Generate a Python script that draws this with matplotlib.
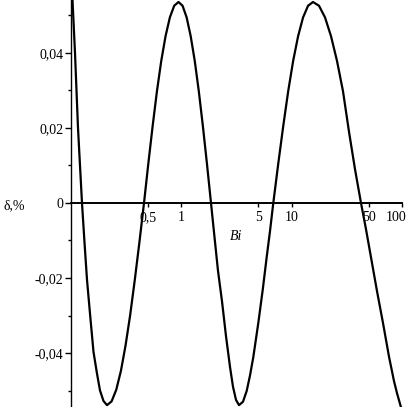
import matplotlib
matplotlib.use('Agg')
import matplotlib.pyplot as plt
from matplotlib.transforms import ScaledTranslation

# values (Bi on a log axis, delta in %)
bi = [0.1, 0.10426, 0.10983, 0.11691, 0.12707,
      0.13387, 0.14106, 0.15013, 0.16146, 0.17373, 0.18493, 0.19892, 0.21398,
      0.23547, 0.25944, 0.28578, 0.31448, 0.34627, 0.38142, 0.42022, 0.46263,
      0.50605, 0.55368, 0.60569, 0.66263, 0.72489, 0.79318, 0.86770, 0.94925,
      1.0330, 1.1245, 1.2236, 1.3318, 1.4493, 1.5776, 1.7169, 1.8685,
      2.0101, 2.1622, 2.3498, 2.5541, 2.7761, 2.9552, 3.1459, 3.3488,
      3.6399, 3.9317, 4.2114, 4.5113, 5.0067, 5.4875, 5.9645, 6.3890, 6.8437,
      7.5889, 8.4171, 9.3336, 10.350, 11.477, 12.728, 14.118, 15.652,
      17.739, 20.101, 22.776, 25.808, 29.243, 33.141, 37.556, 42.556,
      47.232, 53.519, 59.397, 67.30, 76.30, 84.65, 90.10, 97.94, 100.0]
delta = [0.063, 0.0541, 0.0400, 0.0200, 0.0,
         -0.0105, -0.0205, -0.0295, -0.0397, -0.0455, -0.0500, -0.0528, -0.0539,
         -0.0529, -0.0498, -0.0448, -0.0381, -0.0300, -0.0206, -0.0105, 0.0,
         0.0105, 0.0205, 0.0298, 0.0379, 0.0445, 0.0495, 0.0526, 0.0536,
         0.0526, 0.0495, 0.0445, 0.0379, 0.0298, 0.0205, 0.0105, 0.0,
         -0.0091, -0.0181, -0.0262, -0.0355, -0.0437, -0.0490, -0.0525, -0.0539,
         -0.0530, -0.0501, -0.0460, -0.0411, -0.0320, -0.0232, -0.0144, -0.0075, 0.0,
         0.0105, 0.0205, 0.0298, 0.0379, 0.0445, 0.0495, 0.0526, 0.0536,
         0.0526, 0.0495, 0.0445, 0.0379, 0.0298, 0.0190, 0.0090, 0.0,
         -0.0070, -0.0160, -0.0235, -0.0320, -0.0410, -0.0475, -0.0507, -0.0545,
         -0.0556]

x_ticks = [0.5, 1, 5, 10, 50, 100]
x_labels = ['0,5', '1', '5', '10', '50', '100']
y_ticks = [-0.04, -0.02, 0, 0.02, 0.04]
y_labels = ['-0,04', '-0,02', '0', '0,02', '0,04']
y_minor = [-0.05, -0.03, -0.01, 0.01, 0.03, 0.05]

plt.rcParams['font.family'] = ['Liberation Serif', 'DejaVu Serif']


def draw_curve(ax):
    ax.plot(bi, delta, color='black', lw=1.6, solid_joinstyle='round')


def setup_axes(fig, ax):
    ax.set_xscale('log')
    ax.set_xlim(10 ** (-181 / 110.5), 10 ** (228 / 110.5))
    ax.set_ylim(-204 / 3750, 203 / 3750)
    for s in ['top', 'right']:
        ax.spines[s].set_visible(False)
    ax.spines['left'].set_position(('data', 0.1))
    ax.spines['bottom'].set_position(('data', 0))
    ax.spines['bottom'].set_bounds(0.1, 100)
    ax.spines['left'].set_linewidth(1.0)
    ax.spines['bottom'].set_linewidth(1.4)

    ax.set_xticks(x_ticks)
    ax.set_xticklabels(x_labels)
    ax.xaxis.set_minor_locator(matplotlib.ticker.NullLocator())
    ax.tick_params(axis='x', direction='out', length=3, width=1, pad=3,
                   labelsize=10)
    # keep the last label inside the picture
    last = ax.get_xticklabels()[-1]
    last.set_transform(last.get_transform()
                       + ScaledTranslation(-0.06, 0, fig.dpi_scale_trans))

    ax.set_yticks(y_ticks)
    ax.set_yticklabels(y_labels)
    ax.set_yticks(y_minor, minor=True)
    ax.tick_params(axis='y', which='major', direction='out', length=4,
                   width=1, pad=1, labelsize=10)
    ax.tick_params(axis='y', which='minor', direction='out', length=2,
                   width=1)


def name_axis(fig):
    fig.text(14 / 409, 1 - 206 / 407, 'δ,%', ha='center', va='center',
             fontsize=10)
    fig.text(236 / 409, 1 - 237 / 407, 'Bi', ha='center', va='center',
             fontsize=10, style='italic')


def main():
    fig = plt.figure(figsize=(4.09, 4.07), dpi=100)
    ax = fig.add_axes([0, 0, 1, 1])
    ax.patch.set_alpha(0)
    draw_curve(ax)
    setup_axes(fig, ax)
    name_axis(fig)
    fig.savefig('out.png', dpi=100, facecolor='white')


if __name__ == "__main__":
    main()
